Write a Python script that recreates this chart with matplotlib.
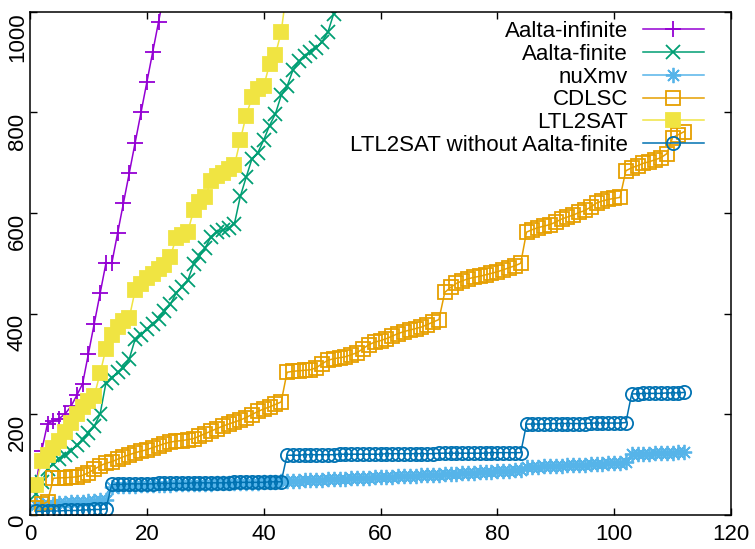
import numpy as np
import matplotlib
matplotlib.use("Agg")
import matplotlib.pyplot as plt

plt.rcParams['font.family'] = ['Liberation Sans', 'DejaVu Sans']

# cactus data: y values for instance index 1..n
aalta_infinite = [60, 127, 181, 186, 191, 200, 215, 237, 260, 320,
                  380, 440, 500, 500, 560, 620, 680, 740, 800, 860,
                  920, 980, 1040]

aalta_finite = [40, 65, 90, 101, 110, 119, 127, 138, 149, 162,
                176, 200, 262, 272, 283, 291, 310, 349, 358, 370,
                379, 390, 404, 418, 440, 452, 466, 498, 514, 531,
                553, 562, 566, 570, 579, 633, 671, 708, 720, 745,
                774, 797, 834, 852, 884, 902, 912, 921, 929, 941,
                960, 997]

nuxmv = ([18, 19, 20, 21, 22, 23, 24, 24, 25, 26, 27, 28, 29]
         + [55, 56, 56, 57, 57, 58, 58, 58, 59, 59, 59, 60, 60, 60, 61,
            61, 61, 61, 62, 62, 62, 62, 63, 63, 63, 63, 64, 64, 64]
         + [66, 66, 67, 67, 68, 68, 69, 69, 70, 70,
            71, 71, 72, 72, 73, 73, 74, 74, 75, 75,
            76, 76, 77, 77, 78, 78, 79, 79, 80, 80,
            81, 82, 82, 83, 84, 84, 85, 86, 86, 87,
            88, 88]
         + [94, 95, 95, 96, 96, 97, 97, 98, 98, 99, 99, 100, 100, 101,
            102, 102, 103, 104]
         + [120, 120, 121, 121, 122, 122, 123, 123, 124, 125])

cdlsc = [12, 20, 25, 72, 73, 73, 74, 75, 78, 83,
         90, 97, 102, 105, 110, 115, 119, 123, 126, 129,
         133, 137, 141, 144, 146, 147, 149, 151, 156, 161,
         166, 171, 176, 180, 184, 188, 193, 199, 205, 210,
         214, 219, 224, 283, 285, 286, 287, 288, 292, 300,
         307, 310, 312, 314, 318, 322, 330, 338, 343, 346,
         350, 355, 360, 364, 367, 370, 373, 378, 383, 388,
         442, 452, 460, 465, 469, 472, 474, 477, 480, 483,
         487, 491, 495, 500, 562, 567, 571, 574, 577, 582,
         588, 592, 596, 601, 605, 612, 620, 624, 627, 629,
         631, 684, 690, 694, 699, 702, 706, 710, 718, 750,
         756, 762]

ltl2sat = [58, 107, 118, 133, 147, 165, 183, 200, 213, 226,
           236, 281, 330, 358, 374, 385, 392, 446, 458, 470,
           479, 489, 497, 512, 550, 556, 562, 605, 621, 632,
           664, 674, 680, 687, 695, 745, 794, 830, 846, 852,
           896, 915, 960, 1050]

ltl2sat_wo = ([6, 6, 7, 7, 7, 8, 8, 8, 9, 9, 10, 10, 11]
              + [60, 60, 60, 61, 61, 61, 61, 61, 62, 62,
                 62, 62, 62, 62, 63, 63, 63, 63, 63, 63,
                 63, 64, 64, 64, 64, 64, 64, 65, 65, 65]
              + [118, 118, 118, 119, 119, 119, 119, 119, 119, 120,
                 120, 120, 120, 120, 120, 120, 120, 121, 121, 121,
                 121, 121, 121, 121, 121, 121, 122, 122, 122, 122,
                 122, 122, 122, 122, 122, 123, 123, 123, 123, 123,
                 123]
              + [180, 180, 180, 180, 181, 181, 181, 181, 181, 181,
                 181, 182, 182, 182, 182, 182, 182, 183]
              + [240, 240, 241, 241, 241, 241, 242, 242, 242, 243])

series = [
    ("Aalta-infinite", aalta_infinite, "#9400D3", "+", 11, "none"),
    ("Aalta-finite", aalta_finite, "#009E73", "x", 9.5, "none"),
    ("nuXmv", nuxmv, "#56B4E9", (8, 2, 0), 11, "none"),
    ("CDLSC", cdlsc, "#E69F00", "s", 10, "none"),
    ("LTL2SAT", ltl2sat, "#F0E442", "s", 10.5, "fill"),
    ("LTL2SAT without Aalta-finite", ltl2sat_wo, "#0072B2", "o", 9.5, "none"),
]

fig = plt.figure(figsize=(7.55, 5.49), dpi=100)
ax = fig.add_axes([30 / 755, 34.5 / 549, 701 / 755, 502.5 / 549])

for name, ys, col, mk, ms, fill in series:
    xs = np.arange(1, len(ys) + 1)
    ax.plot(xs, ys, color=col, lw=1.1, marker=mk, ms=ms, mew=1.3,
            mfc=col if fill == "fill" else "none", mec=col, label=name)

ax.set_xlim(0, 120)
ax.set_ylim(0, 1000)
ax.set_xticks(np.arange(0, 121, 20))
ax.set_yticks(np.arange(0, 1001, 200))
for lbl in ax.get_yticklabels():
    lbl.set_rotation(90)
    lbl.set_va("top")
ax.tick_params(direction="in", length=5, width=1, top=True, right=True,
               labelsize=16, colors="black")
ax.tick_params(axis="x", pad=7)
ax.tick_params(axis="y", pad=1.5)
for sp in ax.spines.values():
    sp.set_linewidth(1.1)

ax.legend(loc="upper right", frameon=False, markerfirst=False, fontsize=16,
          handlelength=2.75, handletextpad=0.68, labelspacing=0.08,
          borderpad=0, borderaxespad=0, numpoints=1,
          bbox_to_anchor=(704 / 755, 528 / 549), bbox_transform=fig.transFigure)

fig.savefig("out.png", dpi=100)
